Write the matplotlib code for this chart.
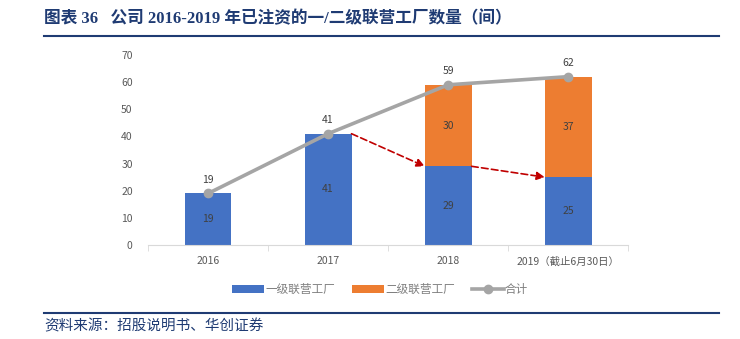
import matplotlib
matplotlib.use("Agg")
import matplotlib.pyplot as plt
import numpy as np

plt.rcParams['font.family'] = ['Noto Sans CJK SC', 'DejaVu Sans']

categories = ['2016', '2017', '2018', '2019（截止6月30日）']
tier1 = [19, 41, 29, 25]
tier2 = [0, 0, 30, 37]
total = [19, 41, 59, 62]

BLUE = '#4472C4'
ORANGE = '#ED7D31'
GRAY = '#A5A5A5'
TEXT = '#595959'
NAVY = '#1F3B73'
RED = '#C00000'

fig = plt.figure(figsize=(7.4, 3.39), dpi=100)
ax = fig.add_axes([0.200, 0.277, 0.649, 0.561])

x = np.arange(len(categories))
w = 0.39
b1 = ax.bar(x, tier1, width=w, color=BLUE, label='一级联营工厂', zorder=2)
b2 = ax.bar(x, tier2, width=w, bottom=tier1, color=ORANGE, label='二级联营工厂', zorder=2)
ln, = ax.plot(x, total, color=GRAY, lw=2.6, marker='o', ms=6, label='合计', zorder=3)

for i in range(len(x)):
    ax.text(x[i], tier1[i] / 2, str(tier1[i]), ha='center', va='center',
            fontsize=7.5, color='#404040', zorder=4)
    if tier2[i] > 0:
        ax.text(x[i], tier1[i] + tier2[i] / 2, str(tier2[i]), ha='center',
                va='center', fontsize=7.5, color='#404040', zorder=4)
    ax.text(x[i], total[i] + 3.2, str(total[i]), ha='center', va='bottom',
            fontsize=7.5, color='#404040', zorder=4)

# dashed arrows linking the tops of consecutive tier-1 bars
for i in range(1, len(x) - 1):
    ax.annotate('', xy=(x[i + 1] - w / 2, tier1[i + 1]),
                xytext=(x[i] + w / 2, tier1[i]),
                arrowprops=dict(arrowstyle='-|>', color=RED, lw=1.2,
                                linestyle=(0, (4, 2)), mutation_scale=12,
                                shrinkA=0, shrinkB=0), zorder=5)

ax.set_xlim(-0.5, len(x) - 0.5)
ax.set_ylim(0, 70)
ax.set_yticks(range(0, 71, 10))
ax.set_xticks(x)
ax.set_xticklabels(categories)
ax.set_xticks(np.arange(-0.5, len(x), 1), minor=True)
ax.tick_params(axis='x', which='major', length=0, pad=8, labelsize=7.5, colors=TEXT)
ax.tick_params(axis='x', which='minor', length=4, color='#D9D9D9')
ax.tick_params(axis='y', length=0, pad=11, labelsize=7.5, colors=TEXT)
for s in ['top', 'right', 'left']:
    ax.spines[s].set_visible(False)
ax.spines['bottom'].set_color('#D9D9D9')

leg = fig.legend(handles=[b1, b2, ln], loc='center', bbox_to_anchor=(0.514, 0.147),
                 ncol=3, frameon=False, fontsize=8.4, handlelength=2.7,
                 columnspacing=1.5, handletextpad=0.1)
for t in leg.get_texts():
    t.set_color('#7F7F7F')

fig.text(0.060, 0.943, '图表 36   公司 2016-2019 年已注资的一/二级联营工厂数量（间）',
         fontsize=12, fontweight='bold', color=NAVY, va='center',
         family=['Liberation Serif', 'Noto Sans CJK SC'])
fig.add_artist(plt.Line2D([0.060, 0.972], [0.895, 0.895], color=NAVY, lw=1.5))
fig.add_artist(plt.Line2D([0.060, 0.972], [0.077, 0.077], color=NAVY, lw=1.5))
fig.text(0.060, 0.037, '资料来源：招股说明书、华创证券', fontsize=10.5,
         style='italic', color=NAVY, va='center')

fig.savefig('out.png', dpi=100)
